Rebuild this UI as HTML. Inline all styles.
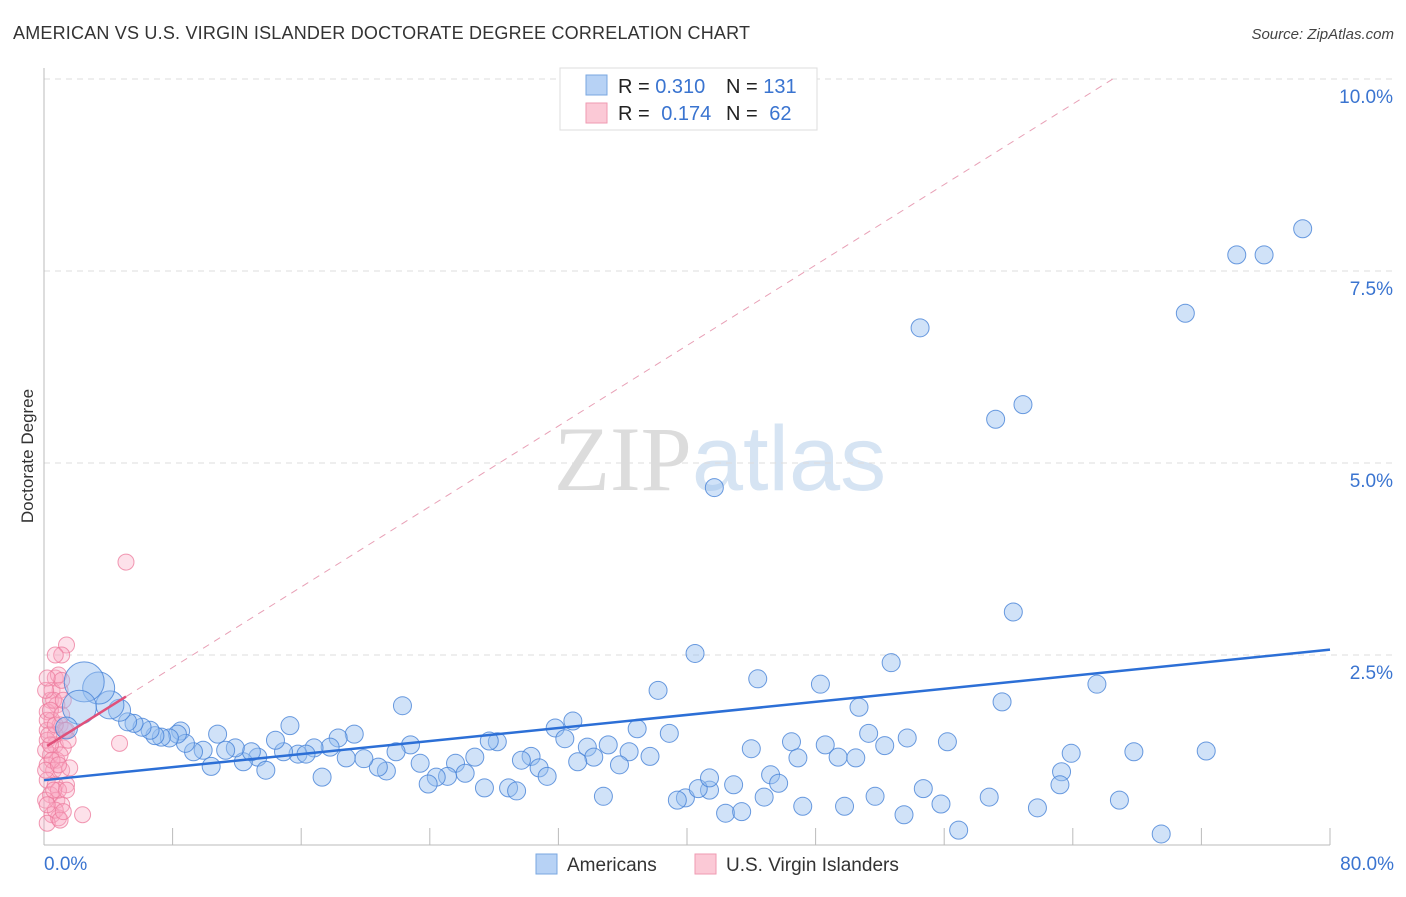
<!DOCTYPE html>
<html><head><meta charset="utf-8"><style>
body{margin:0;background:#fff;font-family:"Liberation Sans",sans-serif;}
svg text{font-family:"Liberation Sans",sans-serif;}
</style></head><body>
<svg id="chart" width="1406" height="892" viewBox="0 0 1406 892" xmlns="http://www.w3.org/2000/svg">
<text x="13" y="39" font-size="18" fill="#333" textLength="737">AMERICAN VS U.S. VIRGIN ISLANDER DOCTORATE DEGREE CORRELATION CHART</text>
<text x="1394" y="39" font-size="15" fill="#444" font-style="italic" text-anchor="end">Source: ZipAtlas.com</text>
<text x="720" y="490" font-size="92" text-anchor="middle" fill="#e6e6e6"><tspan font-family="Liberation Serif" fill="#dcdcdc">ZIP</tspan><tspan fill="#d6e4f3">atlas</tspan></text>
<text transform="translate(33,456) rotate(-90)" font-size="17" fill="#333" text-anchor="middle">Doctorate Degree</text>
<g id="grid"></g><g id="marks"></g>
<g>
<rect x="560" y="68" width="257" height="62" fill="#fff" stroke="#ddd"/>
<rect x="586" y="75" width="21" height="20" fill="#b7d2f5" stroke="#7aa7e0"/>
<rect x="586" y="103" width="21" height="20" fill="#fbc9d6" stroke="#ef9ab2"/>
<text x="618" y="93" font-size="20" fill="#222">R = <tspan fill="#3a74d0">0.310</tspan></text>
<text x="726" y="93" font-size="20" fill="#222">N = <tspan fill="#3a74d0">131</tspan></text>
<text x="618" y="120" font-size="20" fill="#222">R = <tspan fill="#3a74d0" dx="6">0.174</tspan></text>
<text x="726" y="120" font-size="20" fill="#222">N = <tspan fill="#3a74d0" dx="6">62</tspan></text>
</g>
<g>
<rect x="536" y="854" width="21" height="20" fill="#b7d2f5" stroke="#7aa7e0"/>
<text x="567" y="871" font-size="19" fill="#333">Americans</text>
<rect x="695" y="854" width="21" height="20" fill="#fbc9d6" stroke="#ef9ab2"/>
<text x="726" y="871" font-size="19" fill="#333">U.S. Virgin Islanders</text>
</g>
</svg>
<script>
const xTickLabels=["0.0%","80.0%"];
const yTickValues=[2.5,5,7.5,10];
const yTickLabels=["2.5%","5.0%","7.5%","10.0%"];
const blueX=[78.3,74.2,75.9,71.0,54.5,59.2,60.9,41.7,60.3,40.5,52.7,38.2,44.4,48.3,65.5,22.3,59.6,50.7,32.9,31.8,36.9,15.3,10.8,8.5,19.3,38.9,72.3,67.8,63.9,56.2,53.7,52.3,51.3,48.6,46.5,44.0,46.9,49.4,50.5,35.1,33.8,32.4,36.4,37.7,34.2,35.8,33.2,30.3,29.7,30.8,31.3,28.2,27.7,26.8,25.6,26.2,25.1,24.4,23.9,27.4,28.9,29.4,22.8,21.9,23.4,21.3,20.8,19.9,18.8,18.3,17.8,16.8,15.8,16.3,14.9,14.4,13.3,13.8,12.4,12.9,11.9,11.3,10.4,9.9,9.3,8.8,8.3,7.8,7.3,6.9,6.6,6.1,5.6,5.2,4.7,4.1,3.4,2.5,2.2,1.4,17.3,41.4,39.9,40.7,41.4,42.9,45.2,45.7,42.4,43.4,44.8,47.2,49.8,51.7,53.5,54.7,55.8,56.9,58.8,61.8,63.3,63.2,66.9,69.5,34.8,39.4];
const blueY=[8.05,7.71,7.71,6.95,6.76,5.57,5.76,4.68,3.06,2.52,2.40,2.04,2.19,2.12,2.12,1.84,1.89,1.82,1.64,1.55,1.54,1.58,1.47,1.51,1.47,1.48,1.25,1.24,1.22,1.37,1.42,1.32,1.48,1.33,1.37,1.28,1.16,1.17,1.16,1.33,1.30,1.41,1.24,1.18,1.17,1.07,1.11,1.18,1.13,1.03,0.92,1.37,1.38,1.17,1.09,0.96,0.92,0.91,0.82,0.77,0.77,0.73,1.33,1.24,1.09,0.99,1.04,1.15,1.16,1.42,1.30,1.29,1.21,1.21,1.24,1.39,1.17,1.00,1.11,1.24,1.29,1.26,1.05,1.26,1.24,1.35,1.47,1.42,1.43,1.45,1.52,1.56,1.61,1.63,1.78,1.85,2.07,2.15,1.82,1.55,0.91,0.74,0.64,0.76,0.90,0.81,0.94,0.83,0.44,0.46,0.65,0.53,0.53,0.66,0.42,0.76,0.56,0.22,0.65,0.51,0.98,0.81,0.61,0.17,0.66,0.61];
const blueBig={94:11,95:14,96:16,97:20,98:17,99:11};
const pinkX=[5.1,1.4,1.1,0.7,0.7,0.5,1.0,0.4,0.8,0.2,0.5,1.0,0.2,0.7,1.3,0.2,0.7,1.2,0.4,0.8,0.2,0.6,1.1,1.6,0.2,0.7,1.4,0.4,0.8,1.1,0.5,0.9,0.2,2.4,4.7,1.4,1.0,0.1,0.2,0.6,0.9,1.1,0.1,0.4,0.9,0.7,1.0,1.2,0.1,0.5,0.3,0.7,1.2,1.5,0.1,0.6,0.2,1.4,0.9,0.4,1.1,0.2];
const pinkY=[3.71,2.63,2.50,2.50,2.20,2.04,2.04,1.91,1.85,1.76,1.65,1.59,1.52,1.46,1.52,1.39,1.33,1.29,1.20,1.13,1.07,1.00,1.00,1.03,0.87,0.81,0.81,0.68,0.61,0.55,0.42,0.38,0.31,0.42,1.35,1.52,1.20,1.26,1.65,1.91,2.24,2.17,2.04,1.33,0.74,0.48,0.35,0.46,0.61,1.13,1.46,1.59,1.91,1.39,1.00,0.74,0.55,0.74,1.07,1.78,1.72,2.20];
const blueTrend=[0.87,2.57];
const pinkTrend=[1.29,0.131];
const X=v=>44+v*(1330-44)/80, Y=v=>847-v*76.8;
const NS="http://www.w3.org/2000/svg";
function mk(p,t,a){const e=document.createElementNS(NS,t);for(const k in a)e.setAttribute(k,a[k]);p.appendChild(e);return e;}
const grid=document.getElementById('grid'),marks=document.getElementById('marks');
yTickValues.forEach((v,i)=>{
 const l=mk(grid,'line',{x1:44,x2:1394,y1:Y(v),y2:Y(v),stroke:'#ddd','stroke-dasharray':'6,5'});
 
 
 const t=mk(grid,'text',{x:1393,y:Y(v)+24,'font-size':19,fill:'#3a74d0','text-anchor':'end'});t.textContent=yTickLabels[i];
 
 
});
const ax=mk(grid,'line',{x1:44,x2:1330,y1:845,y2:845,stroke:'#bbb'});


const ay=mk(grid,'line',{x1:44,x2:44,y1:68,y2:845,stroke:'#bbb'});


for(let i=1;i<=10;i++){const t=mk(grid,'line',{x1:X(i*8),x2:X(i*8),y1:828,y2:845,stroke:'#bbb'});
 
 }
[[0,44,'start'],[80,1394,'end']].forEach((d,i)=>{const t=mk(grid,'text',{x:d[1],y:870,'font-size':19,fill:'#3a74d0','text-anchor':d[2]});t.textContent=xTickLabels[i];
 
 });
pinkX.forEach((x,i)=>{const c=mk(marks,'circle',{cx:X(x),cy:Y(pinkY[i]),r:8,fill:'rgba(248,170,194,0.35)',stroke:'rgba(236,120,155,0.75)','stroke-width':1});
 
 });
blueX.forEach((x,i)=>{const c=mk(marks,'circle',{cx:X(x),cy:Y(blueY[i]),r:blueBig[i]||9,fill:'rgba(150,190,240,0.45)',stroke:'rgba(70,130,215,0.8)','stroke-width':1});
 
 });
const xEnd=(10-pinkTrend[0])/pinkTrend[1];
const pd=mk(marks,'line',{x1:X(5.1),y1:Y(pinkTrend[0]+pinkTrend[1]*5.1),x2:X(xEnd),y2:Y(10),stroke:'#e8a0b6','stroke-dasharray':'7,6','stroke-width':1});


const ps=mk(marks,'line',{x1:X(0.2),y1:Y(pinkTrend[0]+pinkTrend[1]*0.2),x2:X(5.1),y2:Y(pinkTrend[0]+pinkTrend[1]*5.1),stroke:'#e0507a','stroke-width':2.5});


const bl=mk(marks,'line',{x1:X(0),y1:Y(blueTrend[0]),x2:X(80),y2:Y(blueTrend[1]),stroke:'#2c6fd6','stroke-width':2.5});


</script>
</body></html>
